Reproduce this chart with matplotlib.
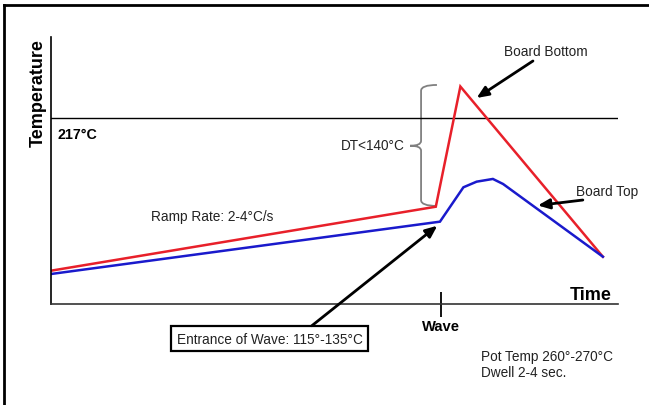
import matplotlib
matplotlib.use("Agg")
import matplotlib.pyplot as plt
from matplotlib.lines import Line2D
from matplotlib.path import Path
from matplotlib.patches import PathPatch

plt.rcParams['font.family'] = ['Liberation Sans', 'DejaVu Sans']

# ---- data (time in s, temperature in °C) ----
bottom_time = [0, 101.8, 108.3, 146.0]
bottom_temp = [59.3, 125.2, 249.0, 73.7]

top_time = [0, 102.9, 109.1, 112.6, 116.9, 119.6, 146.0]
top_temp = [55.9, 109.8, 145.2, 151.0, 153.8, 148.6, 73.7]

liquidus = 217
wave_time = 103.1
xlim = (0, 150)
ylim = (25, 300)

fig = plt.figure(figsize=(6.49, 4.06), dpi=100)
ax = fig.add_axes([51/649, 101/406, 567/649, 267/406])
ax.set_xlim(*xlim)
ax.set_ylim(*ylim)

for s in ['top', 'right']:
    ax.spines[s].set_visible(False)
ax.spines['left'].set_linewidth(1.2)
ax.spines['bottom'].set_linewidth(1.2)
ax.spines['bottom'].set_color('#333333')
ax.set_yticks([])
ax.set_xticks([wave_time])
ax.set_xticklabels(['Wave'], fontsize=10.6, fontweight='bold')
ax.tick_params(axis='x', direction='inout', length=18, width=1.3, pad=2)

ax.axhline(liquidus, color='black', lw=1.0)

ax.plot(bottom_time, bottom_temp, color='#e8202a', lw=1.8, solid_joinstyle='miter')
ax.plot(top_time, top_temp, color='#1a1acc', lw=1.8, solid_joinstyle='miter')

# curly brace (gray)
bx, tipx, midx = 97.9, 102.1, 95.0
btop, bbot, bmid = 250.6, 126.0, 188.0
verts = [(tipx, btop), (bx, btop), (bx, btop - 6), (bx, bmid + 5),
         (bx, bmid), (midx, bmid),
         (bx, bmid), (bx, bmid - 5), (bx, bbot + 6), (bx, bbot), (tipx, bbot)]
codes = [Path.MOVETO, Path.CURVE3, Path.CURVE3, Path.LINETO,
         Path.CURVE3, Path.CURVE3,
         Path.CURVE3, Path.CURVE3, Path.LINETO, Path.CURVE3, Path.CURVE3]
ax.add_patch(PathPatch(Path(verts, codes), fill=False, edgecolor='#808080', lw=1.3))

fs = 9.8
ax.text(1.85, 200, '217°C', fontsize=10.3, fontweight='bold', va='center', ha='left')
ax.text(93.7, 188.8, 'DT<140°C', fontsize=fs, va='center', ha='right', color='#222222')
ax.text(131.0, 285.6, 'Board Bottom', fontsize=fs, va='center', ha='center', color='#222222')
ax.text(147.1, 141.4, 'Board Top', fontsize=fs, va='center', ha='center', color='#222222')
ax.text(26.4, 115.6, 'Ramp Rate: 2-4°C/s', fontsize=fs, va='center', ha='left', color='#222222')
ax.text(148.3, 34.3, 'Time', fontsize=13, fontweight='bold', va='center', ha='right')
ax.text(57.9, -10.7, 'Entrance of Wave: 115°-135°C', fontsize=fs, va='center', ha='center',
        color='#222222', clip_on=False,
        bbox=dict(boxstyle='square,pad=0.4', fc='white', ec='black', lw=1.6))
ax.text(113.7, -28.3, 'Pot Temp 260°-270°C', fontsize=fs, va='center', ha='left',
        color='#222222', clip_on=False)
ax.text(113.7, -44.8, 'Dwell 2-4 sec.', fontsize=fs, va='center', ha='left',
        color='#222222', clip_on=False)

arrow = dict(arrowstyle='-|>,head_length=0.7,head_width=0.3', color='black', lw=2.0,
             shrinkA=0, shrinkB=0)
ax.annotate('', xy=(112.6, 237.2), xytext=(127.5, 275.3), arrowprops=arrow)
ax.annotate('', xy=(128.8, 126.5), xytext=(140.7, 132.1), arrowprops=arrow)
ax.annotate('', xy=(102.2, 105.6), xytext=(69.0, 2.6), arrowprops=arrow,
            annotation_clip=False)

fig.text(38/649, 1 - 93/406, 'Temperature', rotation=90, fontsize=13, fontweight='bold',
         va='center', ha='center')

# outer frame (top and left)
fig.add_artist(Line2D([4/649, 1.0], [1 - 6/406, 1 - 6/406], color='black', lw=2,
                      transform=fig.transFigure))
fig.add_artist(Line2D([4/649, 4/649], [0, 1 - 6/406], color='black', lw=2,
                      transform=fig.transFigure))

fig.savefig('out.png', dpi=100)
